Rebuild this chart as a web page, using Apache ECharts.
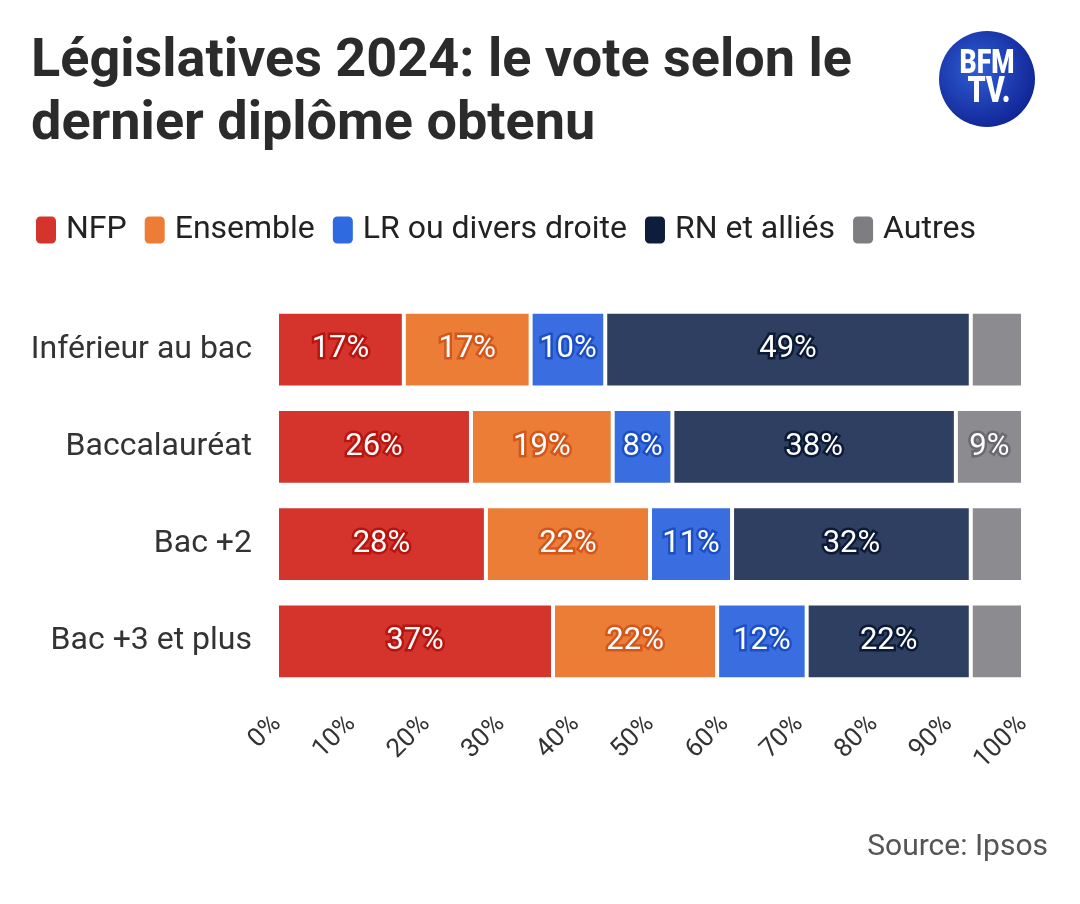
<!DOCTYPE html>
<html>
<head>
<meta charset="utf-8">
<script src="https://cdn.jsdelivr.net/npm/echarts@6/dist/echarts.min.js"></script>
<style>
  html, body { margin: 0; padding: 0; background: #fff; }
  #chart { width: 1080px; height: 904px; }
</style>
</head>
<body>
<div id="chart"></div>
<script>
var categories = ['Inférieur au bac', 'Baccalauréat', 'Bac +2', 'Bac +3 et plus'];
var partis = ['NFP', 'Ensemble', 'LR ou divers droite', 'RN et alliés', 'Autres'];
var nfp = [17, 26, 28, 37];
var ensemble = [17, 19, 22, 22];
var lr = [10, 8, 11, 12];
var rn = [49, 38, 32, 22];
var autres = [7, 9, 7, 7];
var xTicks = [0, 10, 20, 30, 40, 50, 60, 70, 80, 90, 100];

var couleurs = ['#d4342c', '#ec7d36', '#3a6ee0', '#2e3f61', '#8b8b90'];
var couleursLegende = ['#d4342c', '#ec7d36', '#2f6ae0', '#0f1d3c', '#7d7d82'];
var halos = ['#b8150f', '#d4561a', '#1d4fc4', '#0c1a36', '#6a6a6e'];

var chart = echarts.init(document.getElementById('chart'));

function serie(i, vals) {
    return {
        name: partis[i],
        type: 'bar',
        stack: 'total',
        barCategoryGap: '22%',
        data: vals,
        itemStyle: { color: couleurs[i], borderColor: '#fff', borderWidth: 2 },
        label: {
            show: true,
            position: 'inside',
            color: '#fff',
            fontFamily: 'Roboto',
            fontSize: 31,
            textBorderColor: halos[i],
            textBorderWidth: 5,
            formatter: function (p) { return p.value >= 8 ? p.value + '%' : ''; }
        },
        emphasis: { disabled: true }
    };
}

chart.setOption({
    backgroundColor: '#fff',
    animation: false,
    title: {
        text: 'Législatives 2024: le vote selon le\ndernier diplôme obtenu',
        left: 26,
        top: 26,
        textStyle: {
            fontFamily: 'Roboto',
            fontWeight: 'bold',
            fontSize: 54,
            lineHeight: 63,
            color: '#2b2b2b'
        }
    },
    legend: {
        data: partis.map(function (p, i) {
            return { name: p, itemStyle: { color: couleursLegende[i] } };
        }),
        left: 29,
        top: 209,
        icon: 'roundRect',
        itemWidth: 22,
        itemHeight: 29,
        itemGap: 16,
        textStyle: { fontFamily: 'Roboto', fontSize: 32, color: '#222', padding: [0, 0, 0, 4] }
    },
    grid: { left: 277, right: 57, top: 301, bottom: 214, containLabel: false },
    xAxis: {
        type: 'value',
        min: 0,
        max: 100,
        interval: 10,
        axisLine: { show: false },
        axisTick: { show: false },
        splitLine: { show: false },
        axisLabel: {
            rotate: 45,
            margin: 30,
            fontFamily: 'Roboto',
            fontSize: 26,
            color: '#333',
            formatter: function (v) { return xTicks.indexOf(v) >= 0 ? v + '%' : ''; }
        }
    },
    yAxis: {
        type: 'category',
        inverse: true,
        data: categories,
        axisLine: { show: false },
        axisTick: { show: false },
        axisLabel: { margin: 25, fontFamily: 'Roboto', fontSize: 32, color: '#333' }
    },
    series: [
        serie(0, nfp),
        serie(1, ensemble),
        serie(2, lr),
        serie(3, rn),
        serie(4, autres)
    ],
    graphic: [
        {
            type: 'circle',
            shape: { cx: 987, cy: 79, r: 48 },
            style: {
                fill: {
                    type: 'radial', x: 0.4, y: 0.4, r: 0.7,
                    colorStops: [{ offset: 0, color: '#2f5fd6' }, { offset: 1, color: '#0e1f8f' }]
                }
            }
        },
        {
            type: 'text',
            x: 987, y: 64, scaleX: 0.78,
            style: {
                text: 'BFM', fill: '#fff', fontFamily: 'Roboto',
                fontWeight: 900, fontSize: 34, align: 'center', verticalAlign: 'middle'
            }
        },
        {
            type: 'text',
            x: 989, y: 93, scaleX: 0.8,
            style: {
                text: 'TV.', fill: '#fff', fontFamily: 'Roboto',
                fontWeight: 900, fontSize: 36, align: 'center', verticalAlign: 'middle'
            }
        },
        {
            type: 'text',
            right: 32, top: 832,
            style: {
                text: 'Source: Ipsos', fill: '#555', fontFamily: 'Roboto',
                fontSize: 30
            }
        }
    ]
});
</script>
</body>
</html>
